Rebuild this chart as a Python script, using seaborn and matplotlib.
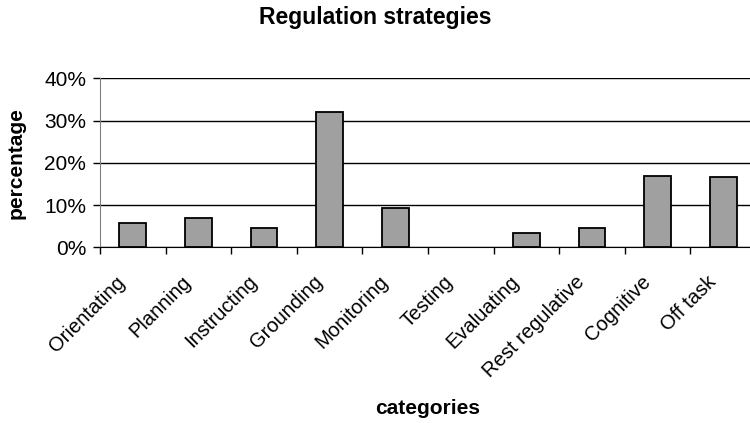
import numpy as np
import pandas as pd
import seaborn as sns
import matplotlib.pyplot as plt
from matplotlib.ticker import FixedLocator, PercentFormatter
from matplotlib.transforms import ScaledTranslation

categories = ['Orientating', 'Planning', 'Instructing', 'Grounding', 'Monitoring',
              'Testing', 'Evaluating', 'Rest regulative', 'Cognitive', 'Off task']
percentages = [5.7, 6.9, 4.6, 32.0, 9.2, 0.0, 3.3, 4.6, 16.9, 16.7]

sns.set_style('white')
plt.rcParams['font.family'] = ['Liberation Sans', 'DejaVu Sans']
plt.rcParams['text.color'] = 'black'
plt.rcParams['axes.labelcolor'] = 'black'
plt.rcParams['xtick.color'] = 'black'
plt.rcParams['ytick.color'] = 'black'

df = pd.DataFrame({'category': categories, 'pct': percentages})

fig = plt.figure(figsize=(7.5, 4.23), dpi=100)
ax = fig.add_axes([0.1333, 0.4154, 0.8747, 0.3995])

sns.barplot(data=df, x='category', y='pct', color='#a0a0a0', edgecolor='black',
            linewidth=1.3, width=0.41, saturation=1, ax=ax)
# empty bars are not drawn in the original
for p in ax.patches:
    if p.get_height() == 0:
        p.set_visible(False)

ax.set_ylim(0, 40)
ax.set_xlim(-0.5, len(categories) - 0.5)
ax.yaxis.set_major_locator(FixedLocator([0, 10, 20, 30, 40]))
ax.yaxis.set_major_formatter(PercentFormatter(decimals=0))
ax.grid(axis='y', color='black', linewidth=1)
ax.set_axisbelow(True)

for s in ['top', 'right']:
    ax.spines[s].set_visible(False)
ax.spines['left'].set_color('#808080')
ax.spines['bottom'].set_color('black')

ax.tick_params(axis='y', which='major', direction='out', length=5, width=1,
               color='black', left=True, labelsize=15, pad=5)
ax.tick_params(axis='x', which='major', length=0, labelsize=14.5, pad=18)
ax.xaxis.set_minor_locator(FixedLocator(np.arange(-0.5, len(categories), 1)))
ax.tick_params(axis='x', which='minor', direction='out', length=5, width=1,
               color='black', bottom=True)

shift = ScaledTranslation(-17 / 100, 0, fig.dpi_scale_trans)
for lab in ax.get_xticklabels():
    lab.set_rotation(45)
    lab.set_ha('right')
    lab.set_rotation_mode('anchor')
    lab.set_transform(lab.get_transform() + shift)

ax.set_xlabel('categories', fontsize=15, fontweight='bold')
ax.xaxis.set_label_coords(0.5, -0.9)
ax.set_ylabel('percentage', fontsize=15, fontweight='bold')
ax.yaxis.set_label_coords(-0.113, 0.5)
fig.text(0.5, 0.985, 'Regulation strategies', ha='center', va='top',
         fontsize=16.5, fontweight='bold')

plt.savefig('out.png', dpi=100)
